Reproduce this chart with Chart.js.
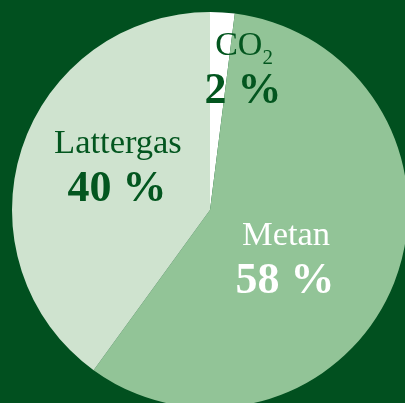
<!DOCTYPE html>
<html>
<head>
<meta charset="utf-8">
<script src="https://cdn.jsdelivr.net/npm/chart.js@4"></script>
<style>
  html, body { margin: 0; padding: 0; background: #01501f; overflow: hidden; width: 405px; height: 403px; }
  #wrap { width: 420px; height: 420px; }
</style>
</head>
<body>
<div id="wrap"><canvas id="myChart" width="420" height="420"></canvas></div>
<script>
// data
const gases = ['CO₂', 'Metan', 'Lattergas'];
const shares = [2, 58, 40];
const sliceColors = ['#ffffff', '#92c497', '#cfe3cf'];
const textColors = ['#03561f', '#ffffff', '#03561f'];

// label placement, in units of the pie radius from its centre (baseline of name)
const labelSpots = [[0.172, -0.783], [0.384, 0.177], [-0.465, -0.288]];

const pieLabels = {
  id: 'pieLabels',
  afterDatasetsDraw(chart) {
    const ctx = chart.ctx;
    const arcs = chart.getDatasetMeta(0).data;
    ctx.save();
    ctx.textAlign = 'center';
    ctx.textBaseline = 'alphabetic';
    arcs.forEach((arc, i) => {
      const r = arc.outerRadius;
      const x = arc.x + labelSpots[i][0] * r;
      const y = arc.y + labelSpots[i][1] * r;
      ctx.fillStyle = textColors[i];
      const name = gases[i];
      if (name.includes('₂')) {
        // subscript drawn by hand
        const base = name.replace('₂', '');
        ctx.font = '34px "Liberation Serif"';
        const w1 = ctx.measureText(base).width;
        ctx.font = '21px "Liberation Serif"';
        const w2 = ctx.measureText('2').width;
        const left = x - (w1 + w2) / 2;
        ctx.textAlign = 'left';
        ctx.font = '34px "Liberation Serif"';
        ctx.fillText(base, left, y);
        ctx.font = '21px "Liberation Serif"';
        ctx.fillText('2', left + w1, y + 9);
        ctx.textAlign = 'center';
      } else {
        ctx.font = '34.5px "Liberation Serif"';
        ctx.fillText(name, x, y);
      }
      ctx.font = 'bold 44px "Liberation Serif"';
      ctx.fillText(shares[i] + ' %', x - 1, y + 48);
    });
    ctx.restore();
  }
};

const myChart = new Chart(document.getElementById('myChart'), {
  type: 'pie',
  data: {
    labels: gases,
    datasets: [{
      data: shares,
      backgroundColor: sliceColors,
      borderWidth: 0
    }]
  },
  options: {
    responsive: false,
    animation: false,
    layout: { padding: 12 },
    plugins: {
      legend: { display: false },
      tooltip: { enabled: false }
    }
  },
  plugins: [pieLabels]
});
</script>
</body>
</html>
